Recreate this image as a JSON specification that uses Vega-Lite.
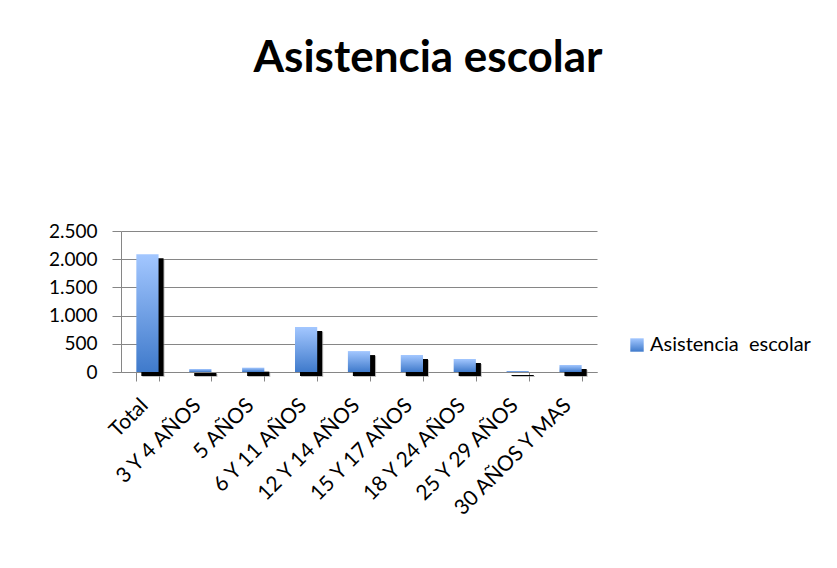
{
  "$schema": "https://vega.github.io/schema/vega-lite/v6.json",
  "width": 476,
  "height": 141,
  "autosize": {"type": "none"},
  "padding": {"left": 121, "top": 231, "right": 240, "bottom": 196},
  "config": {
    "locale": {"number": {"decimal": ",", "thousands": ".", "grouping": [3], "currency": ["$", ""]}},
    "view": {"stroke": null},
    "font": "Lato"
  },
  "title": {
    "text": "Asistencia escolar",
    "font": "Lato",
    "fontSize": 44,
    "fontWeight": "bold",
    "color": "#000000",
    "anchor": "middle",
    "dx": 69,
    "offset": 141
  },
  "data": {
    "values": [
      {"cat": "Total", "valor": 2087, "serie": "Asistencia escolar"},
      {"cat": "3 Y 4 AÑOS", "valor": 53, "serie": "Asistencia escolar"},
      {"cat": "5 AÑOS", "valor": 77, "serie": "Asistencia escolar"},
      {"cat": "6 Y 11 AÑOS", "valor": 796, "serie": "Asistencia escolar"},
      {"cat": "12 Y 14 AÑOS", "valor": 371, "serie": "Asistencia escolar"},
      {"cat": "15 Y 17 AÑOS", "valor": 301, "serie": "Asistencia escolar"},
      {"cat": "18 Y 24 AÑOS", "valor": 230, "serie": "Asistencia escolar"},
      {"cat": "25 Y 29 AÑOS", "valor": 18, "serie": "Asistencia escolar"},
      {"cat": "30 AÑOS Y MAS", "valor": 124, "serie": "Asistencia escolar"}
    ]
  },
  "encoding": {
    "x": {
      "field": "cat",
      "type": "nominal",
      "sort": null,
      "scale": {"paddingInner": 0.58, "paddingOuter": 0.29},
      "axis": {
        "title": null,
        "labelAngle": -45,
        "labelAlign": "right",
        "labelBaseline": "middle",
        "labelFontSize": 21,
        "labelColor": "#000000",
        "labelPadding": 21,
        "labelOffset": -3,
        "tickBand": "extent",
        "tickSize": 9,
        "tickColor": "#868686",
        "domainColor": "#868686",
        "labelOverlap": false
      }
    },
    "y": {
      "field": "valor",
      "type": "quantitative",
      "scale": {"domain": [0, 2500]},
      "axis": {
        "title": null,
        "values": [0, 500, 1000, 1500, 2000, 2500],
        "format": ",.0f",
        "labelFontSize": 19,
        "labelColor": "#000000",
        "labelPadding": 15,
        "tickSize": 9,
        "tickColor": "#868686",
        "domainColor": "#868686",
        "gridColor": "#868686",
        "gridOpacity": 1
      }
    }
  },
  "layer": [
    {"mark": {"type": "bar", "color": "#9a9a9a", "xOffset": 6, "yOffset": 5, "opacity": 0.6}},
    {"mark": {"type": "bar", "color": "#000000", "xOffset": 5, "yOffset": 4}},
    {
      "mark": {
        "type": "bar",
        "fill": {"gradient": "linear", "x1": 0, "y1": 0, "x2": 0, "y2": 1, "stops": [{"offset": 0, "color": "#A3C7FF"}, {"offset": 1, "color": "#3F7ACB"}]}
      },
      "encoding": {
        "opacity": {
          "field": "serie",
          "type": "ordinal",
          "scale": {"domain": ["Asistencia escolar"], "range": [1]},
          "legend": {
            "title": null,
            "orient": "none",
            "legendX": 506,
            "legendY": 104,
            "symbolType": "square",
            "symbolSize": 180,
            "symbolStrokeWidth": 0,
            "labelFontSize": 20,
            "labelColor": "#000000",
            "labelOffset": 3,
            "labelLimit": 300,
            "labelExpr": "replace(datum.label, ' ', '\u00a0 ')"
          }
        }
      }
    }
  ]
}
